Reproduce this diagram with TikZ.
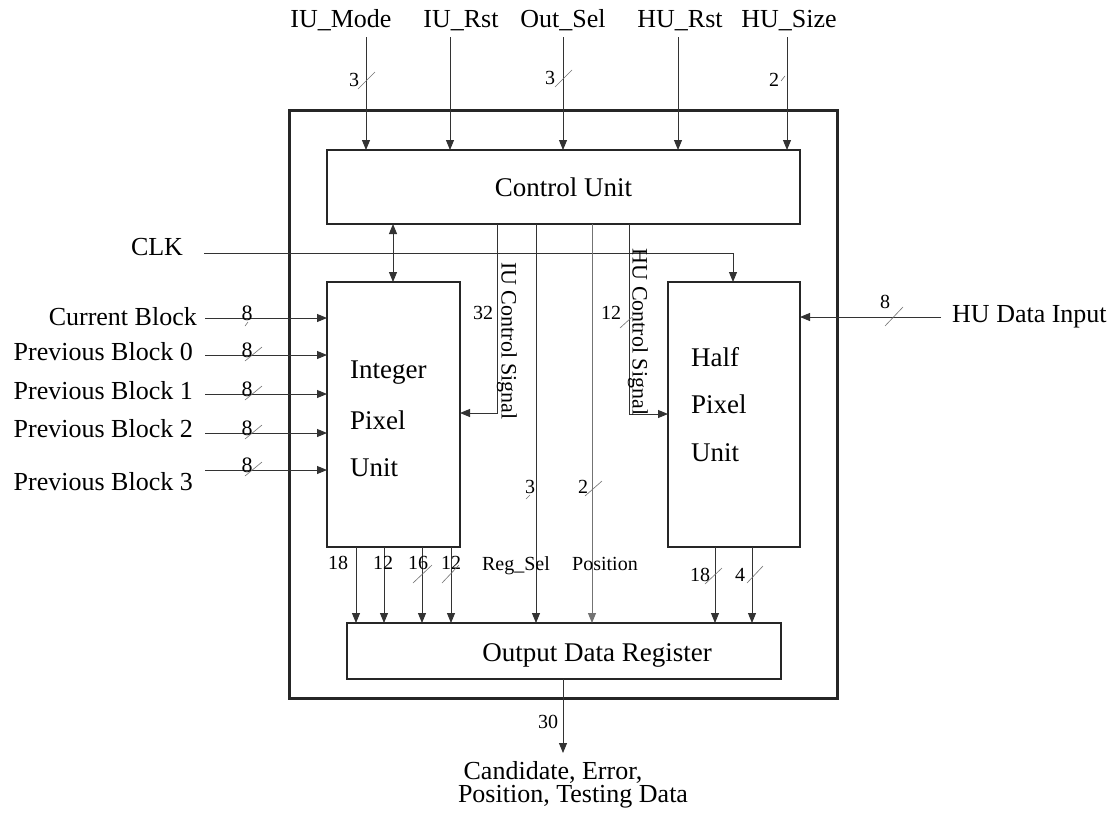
\documentclass[tikz,border=0pt]{standalone}
\usepackage{fontspec}
\setmainfont{Liberation Serif}
\usetikzlibrary{arrows.meta,calc}
\begin{document}
\begin{tikzpicture}[x=1pt,y=-1pt,
  tip/.tip={Triangle[length=10pt,width=8pt]},
  sig/.style={line width=0.9pt, draw=black!80, -{tip}},
  wire/.style={line width=0.9pt, draw=black!80},
  bus/.style={line width=0.6pt, draw=black!55},
  blk/.style={draw=black!85, line width=1.4pt, inner sep=0pt, outer sep=0pt},
  lab/.style={font=\fontsize{26}{28}\selectfont, inner sep=0pt},
  boxtxt/.style={font=\fontsize{27}{29}\selectfont, inner sep=0pt},
  num/.style={font=\fontsize{20}{22}\selectfont, inner sep=0pt},
  rot/.style={font=\fontsize{22}{24}\selectfont, inner sep=0pt, rotate=-90}]
\useasboundingbox (0,0) rectangle (1112,812);
\fill[white] (0,0) rectangle (1112,812);

% blocks
\node[blk, line width=3pt, minimum width=548pt, minimum height=588pt] (outer) at (563,404) {};
\node[blk, minimum width=473pt, minimum height=74pt, font=\fontsize{27}{29}\selectfont] (cu) at (563.5,187) {Control Unit};
\node[blk, minimum width=133pt, minimum height=265pt] (ipu) at (393.5,414.5) {};
\node[blk, minimum width=132pt, minimum height=265pt] (hpu) at (734,414.5) {};
\node[blk, minimum width=434pt, minimum height=56pt] (odr) at (564,651) {};

\node[boxtxt, anchor=west] (ipa) at (350,373) {Integer};
\node[boxtxt, anchor=west] (ipb) at (350,420) {Pixel};
\node[boxtxt, anchor=west] (ipc) at (350,468) {Unit};
\node[boxtxt, anchor=west] (hpa) at (691,357) {Half};
\node[boxtxt, anchor=west] (hpb) at (691,404) {Pixel};
\node[boxtxt, anchor=west] (hpc) at (691,453) {Unit};
\node[boxtxt] (odrt) at (597,655) {Output Data Register};

% top inputs
\node[lab, anchor=base] (lmode) at (341,27) {IU\_Mode};
\node[lab, anchor=base] (lirst) at (461,27) {IU\_Rst};
\node[lab, anchor=base] (losel) at (563,27) {Out\_Sel};
\node[lab, anchor=base] (lhrst) at (680,27) {HU\_Rst};
\node[lab, anchor=base] (lhsz) at (789,27) {HU\_Size};
\coordinate (tmode) at (366,37);
\coordinate (tirst) at (450,37);
\coordinate (tosel) at (563,37);
\coordinate (thrst) at (678,37);
\coordinate (thsz) at (787,37);
\foreach \c in {tmode,tirst,tosel,thrst,thsz}
  \draw[sig] (\c) -- (\c |- cu.north);
\node[num] (n3a) at (354,80) {3};
\draw[bus] (358,89) -- (375,72);
\node[num] (n3b) at (550,78) {3};
\draw[bus] (555,87) -- (572,70);
\node[num] (n2a) at (774,80) {2};
\draw[bus] (781,81) -- (785,76);

% CLK
\node[lab] (clk) at (157,247) {CLK};
\coordinate (clks) at (204,253);
\coordinate (clkx) at (733,253);
\draw[sig] (clks) -- (clkx) -- (clkx |- hpu.north);

% control <-> integer unit
\coordinate (xb) at (393,0);
\draw[wire, {tip}-{tip}] (cu.south -| xb) -- (ipu.north -| xb);

% IU control signal
\coordinate (xiu) at (497,413);
\draw[sig] (cu.south -| xiu) -- (xiu) -- (xiu -| ipu.east);
\node[rot] (iucs) at (507,341) {IU Control Signal};
\node[num] (n32) at (483,313) {32};

% HU control signal
\coordinate (xhu) at (629,414);
\draw[sig] (cu.south -| xhu) -- (xhu) -- (xhu -| hpu.west);
\node[rot] (hucs) at (638,332) {HU Control Signal};
\node[num] (n12h) at (611,313) {12};
\draw[bus] (620,328) -- (632,317);

% Reg_Sel and Position
\coordinate (xrs) at (536,0);
\coordinate (xpo) at (592,0);
\draw[sig] (cu.south -| xrs) -- (odr.north -| xrs);
\draw[sig, draw=black!55] (cu.south -| xpo) -- (odr.north -| xpo);
\node[num] (n3c) at (530,487) {3};
\draw[bus] (526,499) -- (530,495);
\node[num] (n2b) at (583,487) {2};
\draw[bus] (585,496) -- (602,481);
\node[num, anchor=base] (lrs) at (516,570) {Reg\_Sel};
\node[num, anchor=base] (lpo) at (605,570) {Position};

% left inputs
\node[lab, anchor=east] (cb) at (197,317) {Current Block};
\node[lab, anchor=east] (pb0) at (193,352) {Previous Block 0};
\node[lab, anchor=east] (pb1) at (193,391) {Previous Block 1};
\node[lab, anchor=east] (pb2) at (193,429) {Previous Block 2};
\node[lab, anchor=east] (pb3) at (193,482) {Previous Block 3};
\foreach \nm/\yy in {c0/318,c1/355,c2/394,c3/433,c4/470}{
  \coordinate (\nm) at (205,\yy);
  \draw[sig] (\nm) -- (\nm -| ipu.west);
  \node[num, font=\fontsize{22}{24}\selectfont] at (247,\yy-5) {8};
}
\draw[bus] (245,326) -- (248,322);
\foreach \yy in {355,394,433,470}
  \draw[bus] (245,\yy+6) -- (262,\yy-8);

% HU data input
\node[lab, anchor=west] (hdi) at (952,317) {HU Data Input};
\coordinate (hds) at (941,317);
\draw[sig] (hds) -- (hds -| hpu.east);
\node[num] (n8h) at (885,302) {8};
\draw[bus] (885,326) -- (903,307);

% integer unit outputs
\foreach \xx in {356,384,422,451}{
  \coordinate (o\xx) at (\xx,0);
  \draw[sig] (ipu.south -| o\xx) -- (odr.north -| o\xx);
}
\node[num] (o18) at (338,563) {18};
\node[num] (o12a) at (383,563) {12};
\node[num] (o16) at (418,563) {16};
\node[num] (o12b) at (451,563) {12};
\draw[bus] (413,583) -- (432,565);
\draw[bus] (442,583) -- (459,565);

% half unit outputs
\foreach \xx in {715,752}{
  \coordinate (h\xx) at (\xx,0);
  \draw[sig] (hpu.south -| h\xx) -- (odr.north -| h\xx);
}
\node[num] (h18) at (700,575) {18};
\node[num] (h4) at (740,575) {4};
\draw[bus] (705,584) -- (722,568);
\draw[bus] (747,583) -- (763,566);

% output
\coordinate (xo) at (563,753);
\draw[sig] (odr.south -| xo) -- (xo);
\node[num] (n30) at (548,722) {30};
\node[lab] (out1) at (553,772) {Candidate, Error,};
\node[lab] (out2) at (573,797) {Position, Testing Data};
\end{tikzpicture}
\end{document}
